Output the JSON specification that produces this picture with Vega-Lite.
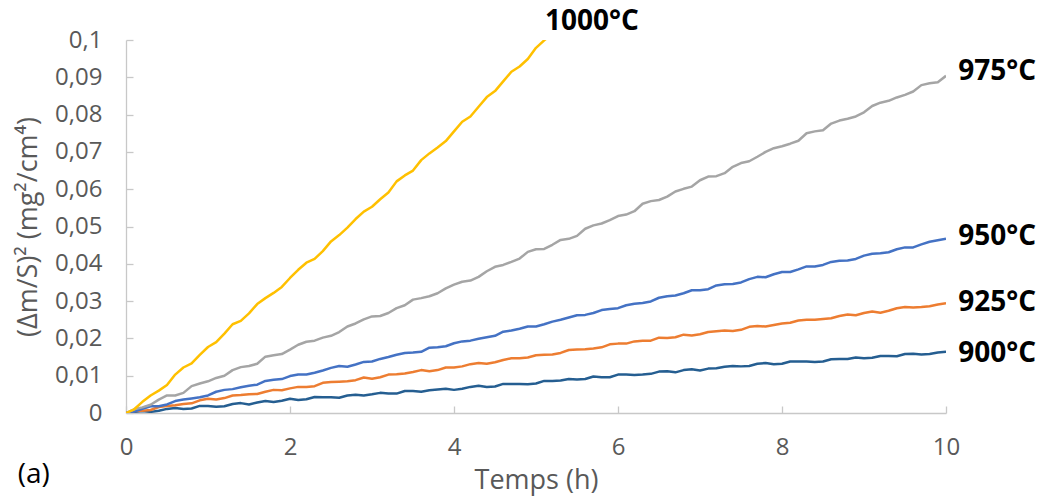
{
  "$schema": "https://vega.github.io/schema/vega-lite/v6.json",
  "width": 820,
  "height": 373,
  "autosize": {"type": "none"},
  "padding": {"left": 126, "top": 40, "right": 98, "bottom": 91},
  "background": "white",
  "config": {"view": {"stroke": null}, "font": "Open Sans"},
  "encoding": {
    "x": {
      "field": "t", "type": "quantitative",
      "scale": {"domain": [0, 10], "nice": false},
      "axis": {
        "title": "Temps (h)", "values": [0, 2, 4, 6, 8, 10], "grid": false, "labelFlush": false,
        "domainColor": "#c8c8c8", "domainWidth": 1.3, "tickColor": "#c8c8c8", "tickWidth": 1.3, "tickSize": -7,
        "labelPadding": 29, "labelFontSize": 24, "labelColor": "#595959", "labelFont": "Open Sans",
        "titleFontSize": 27, "titleColor": "#595959", "titleFont": "Open Sans", "titleFontWeight": "normal", "titlePadding": 8
      }
    },
    "y": {
      "field": "v", "type": "quantitative",
      "scale": {"domain": [0, 0.1], "nice": false},
      "axis": {
        "title": "(Δm/S)² (mg²/cm⁴)", "values": [0, 0.01, 0.02, 0.03, 0.04, 0.05, 0.06, 0.07, 0.08, 0.09, 0.1], "grid": false, "labelFlush": false,
        "labelExpr": "replace(format(datum.value, '.2~f'), '.', ',')",
        "domainColor": "#c8c8c8", "domainWidth": 1.3, "tickColor": "#c8c8c8", "tickWidth": 1.3, "tickSize": -7,
        "labelPadding": 31, "labelFontSize": 24, "labelColor": "#595959", "labelFont": "Open Sans",
        "titleFontSize": 27, "titleColor": "#595959", "titleFont": "Open Sans", "titleFontWeight": "normal", "titlePadding": 12
      }
    }
  },
  "layer": [
    {
      "data": {"values": [
        {"t": 0, "s900": 0, "s925": 0, "s950": 0, "s975": 0, "s1000": 0},
        {"t": 0.2, "s900": 0.00055, "s925": 0.0006, "s950": 0.0011, "s975": 0.0015, "s1000": 0.0030},
        {"t": 0.4, "s900": 0.0006, "s925": 0.0016, "s950": 0.0018, "s975": 0.0036, "s1000": 0.0060},
        {"t": 0.6, "s900": 0.00135, "s925": 0.0021, "s950": 0.0032, "s975": 0.0047, "s1000": 0.0103},
        {"t": 0.8, "s900": 0.0012, "s925": 0.0026, "s950": 0.0039, "s975": 0.0072, "s1000": 0.0133},
        {"t": 1.0, "s900": 0.00185, "s925": 0.0038, "s950": 0.0047, "s975": 0.0085, "s1000": 0.0177},
        {"t": 1.2, "s900": 0.0018, "s925": 0.0040, "s950": 0.0062, "s975": 0.0100, "s1000": 0.0213},
        {"t": 1.4, "s900": 0.00265, "s925": 0.0048, "s950": 0.0069, "s975": 0.0123, "s1000": 0.0247},
        {"t": 1.6, "s900": 0.0028, "s925": 0.0051, "s950": 0.0076, "s975": 0.0132, "s1000": 0.0292},
        {"t": 1.8, "s900": 0.00295, "s925": 0.0062, "s950": 0.0089, "s975": 0.0155, "s1000": 0.0322},
        {"t": 2.0, "s900": 0.0038, "s925": 0.0066, "s950": 0.0099, "s975": 0.0170, "s1000": 0.0362},
        {"t": 2.2, "s900": 0.0037, "s925": 0.0070, "s950": 0.0103, "s975": 0.0191, "s1000": 0.0403},
        {"t": 2.4, "s900": 0.0042, "s925": 0.0081, "s950": 0.0114, "s975": 0.0202, "s1000": 0.0434},
        {"t": 2.6, "s900": 0.0041, "s925": 0.0084, "s950": 0.0126, "s975": 0.0217, "s1000": 0.0477},
        {"t": 2.8, "s900": 0.0049, "s925": 0.0088, "s950": 0.0130, "s975": 0.0240, "s1000": 0.0520},
        {"t": 3.0, "s900": 0.0050, "s925": 0.0092, "s950": 0.0138, "s975": 0.0259, "s1000": 0.0553},
        {"t": 3.2, "s900": 0.0052, "s925": 0.0103, "s950": 0.0150, "s975": 0.0268, "s1000": 0.0591},
        {"t": 3.4, "s900": 0.0059, "s925": 0.0106, "s950": 0.0161, "s975": 0.0289, "s1000": 0.0637},
        {"t": 3.6, "s900": 0.0057, "s925": 0.0115, "s950": 0.0164, "s975": 0.0308, "s1000": 0.0678},
        {"t": 3.8, "s900": 0.0063, "s925": 0.0115, "s950": 0.0176, "s975": 0.0321, "s1000": 0.0712},
        {"t": 4.0, "s900": 0.0062, "s925": 0.0122, "s950": 0.0187, "s975": 0.0344, "s1000": 0.0755},
        {"t": 4.2, "s900": 0.0070, "s925": 0.0131, "s950": 0.0194, "s975": 0.0355, "s1000": 0.0795},
        {"t": 4.4, "s900": 0.0070, "s925": 0.0132, "s950": 0.0203, "s975": 0.0380, "s1000": 0.0847},
        {"t": 4.6, "s900": 0.0078, "s925": 0.0142, "s950": 0.0218, "s975": 0.0397, "s1000": 0.0889},
        {"t": 4.8, "s900": 0.0078, "s925": 0.0147, "s950": 0.0226, "s975": 0.0414, "s1000": 0.0929},
        {"t": 5.0, "s900": 0.0079, "s925": 0.0155, "s950": 0.0232, "s975": 0.0439, "s1000": 0.0979},
        {"t": 5.2, "s900": 0.0086, "s925": 0.0157, "s950": 0.0245, "s975": 0.0451, "s1000": 0.1017},
        {"t": 5.4, "s900": 0.0091, "s925": 0.0169, "s950": 0.0256, "s975": 0.0467},
        {"t": 5.6, "s900": 0.0091, "s925": 0.0171, "s950": 0.0263, "s975": 0.0494},
        {"t": 5.8, "s900": 0.0096, "s925": 0.0176, "s950": 0.0276, "s975": 0.0508},
        {"t": 6.0, "s900": 0.0103, "s925": 0.0186, "s950": 0.0281, "s975": 0.0528},
        {"t": 6.2, "s900": 0.0102, "s925": 0.0192, "s950": 0.0293, "s975": 0.0541},
        {"t": 6.4, "s900": 0.0105, "s925": 0.0194, "s950": 0.0299, "s975": 0.0568},
        {"t": 6.6, "s900": 0.0112, "s925": 0.0201, "s950": 0.0313, "s975": 0.0580},
        {"t": 6.8, "s900": 0.0115, "s925": 0.0210, "s950": 0.0321, "s975": 0.0601},
        {"t": 7.0, "s900": 0.0114, "s925": 0.0211, "s950": 0.0329, "s975": 0.0624},
        {"t": 7.2, "s900": 0.0120, "s925": 0.0219, "s950": 0.0342, "s975": 0.0635},
        {"t": 7.4, "s900": 0.0126, "s925": 0.0220, "s950": 0.0346, "s975": 0.0660},
        {"t": 7.6, "s900": 0.0126, "s925": 0.0231, "s950": 0.0359, "s975": 0.0675},
        {"t": 7.8, "s900": 0.0134, "s925": 0.0232, "s950": 0.0364, "s975": 0.0700},
        {"t": 8.0, "s900": 0.0132, "s925": 0.0240, "s950": 0.0378, "s975": 0.0715},
        {"t": 8.2, "s900": 0.0138, "s925": 0.0248, "s950": 0.0385, "s975": 0.0730},
        {"t": 8.4, "s900": 0.0137, "s925": 0.0250, "s950": 0.0393, "s975": 0.0755},
        {"t": 8.6, "s900": 0.0144, "s925": 0.0254, "s950": 0.0405, "s975": 0.0776},
        {"t": 8.8, "s900": 0.0145, "s925": 0.0264, "s950": 0.0409, "s975": 0.0789},
        {"t": 9.0, "s900": 0.0147, "s925": 0.0268, "s950": 0.0422, "s975": 0.0806},
        {"t": 9.2, "s900": 0.0153, "s925": 0.0269, "s950": 0.0428, "s975": 0.0832},
        {"t": 9.4, "s900": 0.0152, "s925": 0.0281, "s950": 0.0439, "s975": 0.0846},
        {"t": 9.6, "s900": 0.0159, "s925": 0.0283, "s950": 0.0444, "s975": 0.0862},
        {"t": 9.8, "s900": 0.0158, "s925": 0.0286, "s950": 0.0459, "s975": 0.0884},
        {"t": 10.0, "s900": 0.0164, "s925": 0.0294, "s950": 0.0467, "s975": 0.0904},
        {"t": 0.1, "s900": 0.0003, "s925": 0.00055, "s950": 0.0004, "s975": 0.0010, "s1000": 0.0010},
        {"t": 0.3, "s900": 0.0003, "s925": 0.0008, "s950": 0.0018, "s975": 0.0022, "s1000": 0.0047},
        {"t": 0.5, "s900": 0.0011, "s925": 0.0019, "s950": 0.0023, "s975": 0.0047, "s1000": 0.0075},
        {"t": 0.7, "s900": 0.0011, "s925": 0.0024, "s950": 0.0036, "s975": 0.0054, "s1000": 0.0122},
        {"t": 0.9, "s900": 0.0019, "s925": 0.0034, "s950": 0.0042, "s975": 0.0079, "s1000": 0.0156},
        {"t": 1.1, "s900": 0.0017, "s925": 0.0036, "s950": 0.0057, "s975": 0.0094, "s1000": 0.0190},
        {"t": 1.3, "s900": 0.0024, "s925": 0.0047, "s950": 0.0064, "s975": 0.0115, "s1000": 0.0238},
        {"t": 1.5, "s900": 0.0023, "s925": 0.0050, "s950": 0.0073, "s975": 0.0126, "s1000": 0.0267},
        {"t": 1.7, "s900": 0.0032, "s925": 0.0057, "s950": 0.0086, "s975": 0.0151, "s1000": 0.0308},
        {"t": 1.9, "s900": 0.0033, "s925": 0.0061, "s950": 0.0091, "s975": 0.0158, "s1000": 0.0338},
        {"t": 2.1, "s900": 0.0035, "s925": 0.0070, "s950": 0.0103, "s975": 0.0183, "s1000": 0.0384},
        {"t": 2.3, "s900": 0.0043, "s925": 0.0072, "s950": 0.0108, "s975": 0.0194, "s1000": 0.0413},
        {"t": 2.5, "s900": 0.0042, "s925": 0.0083, "s950": 0.0121, "s975": 0.0207, "s1000": 0.0460},
        {"t": 2.7, "s900": 0.0047, "s925": 0.0085, "s950": 0.0124, "s975": 0.0232, "s1000": 0.0497},
        {"t": 2.9, "s900": 0.0047, "s925": 0.0095, "s950": 0.0137, "s975": 0.0251, "s1000": 0.0540},
        {"t": 3.1, "s900": 0.0054, "s925": 0.0096, "s950": 0.0145, "s975": 0.0260, "s1000": 0.0573},
        {"t": 3.3, "s900": 0.0052, "s925": 0.0104, "s950": 0.0156, "s975": 0.0281, "s1000": 0.0621},
        {"t": 3.5, "s900": 0.0059, "s925": 0.0110, "s950": 0.0162, "s975": 0.0304, "s1000": 0.0650},
        {"t": 3.7, "s900": 0.0061, "s925": 0.0112, "s950": 0.0175, "s975": 0.0313, "s1000": 0.0696},
        {"t": 3.9, "s900": 0.0065, "s925": 0.0122, "s950": 0.0179, "s975": 0.0334, "s1000": 0.0729},
        {"t": 4.1, "s900": 0.0065, "s925": 0.0125, "s950": 0.0192, "s975": 0.0352, "s1000": 0.0781},
        {"t": 4.3, "s900": 0.0073, "s925": 0.0134, "s950": 0.0199, "s975": 0.0365, "s1000": 0.0821},
        {"t": 4.5, "s900": 0.0071, "s925": 0.0136, "s950": 0.0207, "s975": 0.0392, "s1000": 0.0863},
        {"t": 4.7, "s900": 0.0078, "s925": 0.0147, "s950": 0.0221, "s975": 0.0405, "s1000": 0.0915},
        {"t": 4.9, "s900": 0.0077, "s925": 0.0149, "s950": 0.0232, "s975": 0.0432, "s1000": 0.0949},
        {"t": 5.1, "s900": 0.0086, "s925": 0.0156, "s950": 0.0238, "s975": 0.0440, "s1000": 0.0999},
        {"t": 5.3, "s900": 0.0087, "s925": 0.0161, "s950": 0.0250, "s975": 0.0464},
        {"t": 5.5, "s900": 0.0090, "s925": 0.0170, "s950": 0.0262, "s975": 0.0475},
        {"t": 5.7, "s900": 0.0098, "s925": 0.0173, "s950": 0.0268, "s975": 0.0503},
        {"t": 5.9, "s900": 0.0096, "s925": 0.0184, "s950": 0.0279, "s975": 0.0517},
        {"t": 6.1, "s900": 0.0103, "s925": 0.0186, "s950": 0.0289, "s975": 0.0532},
        {"t": 6.3, "s900": 0.0103, "s925": 0.0194, "s950": 0.0295, "s975": 0.0561},
        {"t": 6.5, "s900": 0.0111, "s925": 0.0202, "s950": 0.0309, "s975": 0.0571},
        {"t": 6.7, "s900": 0.0109, "s925": 0.0203, "s950": 0.0315, "s975": 0.0594},
        {"t": 6.9, "s900": 0.0117, "s925": 0.0208, "s950": 0.0329, "s975": 0.0607},
        {"t": 7.1, "s900": 0.0119, "s925": 0.0217, "s950": 0.0332, "s975": 0.0634},
        {"t": 7.3, "s900": 0.0124, "s925": 0.0221, "s950": 0.0345, "s975": 0.0643},
        {"t": 7.5, "s900": 0.0125, "s925": 0.0223, "s950": 0.0350, "s975": 0.0670},
        {"t": 7.7, "s900": 0.0132, "s925": 0.0233, "s950": 0.0365, "s975": 0.0687},
        {"t": 7.9, "s900": 0.0131, "s925": 0.0236, "s950": 0.0372, "s975": 0.0710},
        {"t": 8.1, "s900": 0.0138, "s925": 0.0242, "s950": 0.0378, "s975": 0.0722},
        {"t": 8.3, "s900": 0.0138, "s925": 0.0250, "s950": 0.0393, "s975": 0.0750},
        {"t": 8.5, "s900": 0.0138, "s925": 0.0252, "s950": 0.0397, "s975": 0.0758},
        {"t": 8.7, "s900": 0.0145, "s925": 0.0260, "s950": 0.0408, "s975": 0.0784},
        {"t": 8.9, "s900": 0.0149, "s925": 0.0262, "s950": 0.0413, "s975": 0.0795},
        {"t": 9.1, "s900": 0.0148, "s925": 0.0272, "s950": 0.0427, "s975": 0.0823},
        {"t": 9.3, "s900": 0.0153, "s925": 0.0274, "s950": 0.0431, "s975": 0.0837},
        {"t": 9.5, "s900": 0.0158, "s925": 0.0284, "s950": 0.0444, "s975": 0.0853},
        {"t": 9.7, "s900": 0.0157, "s925": 0.0284, "s950": 0.0452, "s975": 0.0879},
        {"t": 9.9, "s900": 0.0162, "s925": 0.0291, "s950": 0.0463, "s975": 0.0887}
      ]},
      "transform": [{"fold": ["s900", "s925", "s950", "s975", "s1000"], "as": ["serie", "v"]}],
      "mark": {"type": "line", "strokeWidth": 2.5, "clip": true, "strokeJoin": "round"},
      "encoding": {
        "color": {
          "field": "serie", "type": "nominal",
          "scale": {"domain": ["s900", "s925", "s950", "s975", "s1000"], "range": ["#255E91", "#ED7D31", "#4472C4", "#A5A5A5", "#FFC000"]},
          "legend": null
        },
        "order": {"field": "t", "type": "quantitative"}
      }
    },
    {
      "data": {"values": [
        {"lab": "1000°C", "t": 5.11, "v": 0.1048},
        {"lab": "975°C", "t": 10.15, "v": 0.0914},
        {"lab": "950°C", "t": 10.15, "v": 0.0472},
        {"lab": "925°C", "t": 10.15, "v": 0.0295},
        {"lab": "900°C", "t": 10.15, "v": 0.0158}
      ]},
      "mark": {"type": "text", "align": "left", "baseline": "middle", "font": "Open Sans", "fontSize": 28, "fontWeight": "bold", "color": "#000000", "clip": false},
      "encoding": {"text": {"field": "lab", "type": "nominal"}}
    },
    {
      "data": {"values": [{"lab": "(a)", "t": -1.32, "v": -0.0166}]},
      "mark": {"type": "text", "align": "left", "baseline": "middle", "font": "Open Sans", "fontSize": 28, "color": "#000000", "clip": false},
      "encoding": {"text": {"field": "lab", "type": "nominal"}}
    }
  ]
}
